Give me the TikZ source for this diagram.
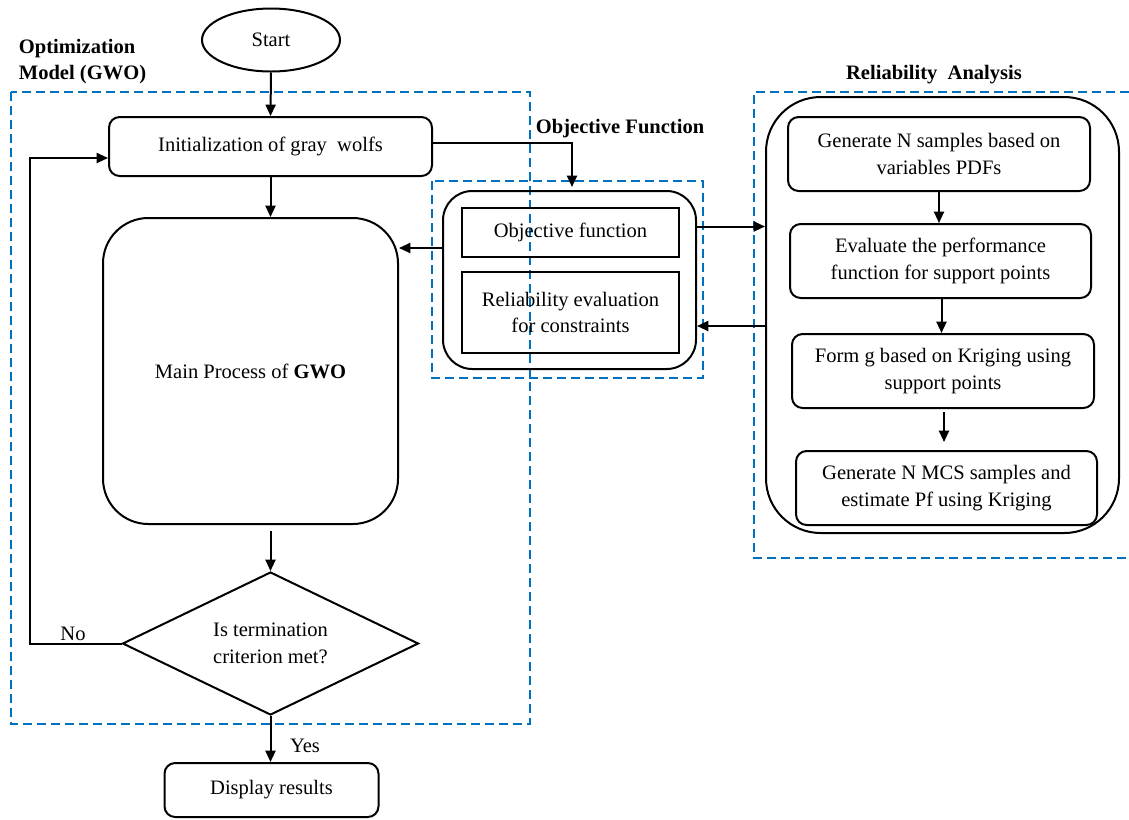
\documentclass[tikz,border=0pt]{standalone}
\usepackage{fontspec}
\setmainfont{Liberation Serif}
\usetikzlibrary{shapes.geometric,arrows.meta,calc}
\definecolor{dashblue}{RGB}{0,112,192}
\tikzset{
  every node/.style={font=\fontsize{15.4}{20}\selectfont, inner sep=2pt},
  box/.style={draw, line width=1.5pt, rounded corners=8pt, align=center},
  sqbox/.style={draw, line width=1.5pt, align=center},
  grp/.style={draw, dashblue, line width=1.4pt, dash pattern=on 6.5pt off 4pt},
  arr/.style={line width=1.5pt, -{Triangle[length=8.5pt,width=7.5pt]}},
  lbl/.style={font=\fontsize{15.4}{20}\selectfont\bfseries, align=left}
}
\begin{document}
\begin{tikzpicture}[x=0.75pt,y=-0.75pt]
\useasboundingbox (0,0) rectangle (1129,819);

% dashed groups
\draw[grp] (11,92) rectangle (530,724);
\draw[grp] (432,181) rectangle (703,378);
\draw[grp] (1129,92) -- (754,92) -- (754,558) -- (1129,558);

% group labels
\node[lbl, anchor=west] (lopt) at (16,61.5) {Optimization\\Model (GWO)};
\node[lbl, anchor=west] (lobj) at (533,129) {Objective Function};
\node[lbl] (lrel) at (934,75) {Reliability\ \ Analysis};

% left flow
\node[draw, ellipse, line width=1.5pt, minimum width=103.5pt, minimum height=47.25pt] (start) at (271,40) {Start};
\node[box, minimum width=242.25pt, minimum height=44.25pt] (init) at (270.5,146.5) {Initialization of gray\ \ wolfs};
\node[box, rounded corners=34pt, minimum width=221.25pt, minimum height=229.5pt] (main) at (250.5,371) {Main Process of \textbf{GWO}};
\node[draw, diamond, aspect=2, line width=1.5pt, minimum width=222pt, minimum height=107.25pt, align=center, inner sep=0pt] (diam) at (270.5,643.5) {Is termination\\criterion met?};
\node[box, minimum width=160.5pt, minimum height=40.5pt] (disp) at (271.5,790) {Display results};

% objective function block
\node[box, rounded corners=22pt, minimum width=189.75pt, minimum height=133.5pt] (objouter) at (569.5,280) {};
\node[sqbox, minimum width=162.75pt, minimum height=36.75pt] (obj1) at (570.5,232.5) {Objective function};
\node[sqbox, minimum width=162.75pt, minimum height=60.75pt] (obj2) at (570.5,312.5) {Reliability evaluation\\for constraints};

% reliability block
\node[box, rounded corners=41pt, minimum width=264.75pt, minimum height=327pt] (relouter) at (942.5,315) {};
\node[box, minimum width=226.5pt, minimum height=55.5pt] (g1) at (939,154) {Generate N samples based on\\variables PDFs};
\node[box, minimum width=225.75pt, minimum height=55.5pt] (g2) at (940.5,261) {Evaluate the performance\\function for support points};
\node[box, minimum width=226.5pt, minimum height=55.5pt] (g3) at (943,371) {Form g based on Kriging using\\support points};
\node[box, minimum width=225.75pt, minimum height=55.5pt] (g4) at (946.5,488) {Generate N MCS samples and\\estimate Pf using Kriging};

% helper coordinates
\coordinate (nocorner) at (30,643.5);
\coordinate (loopend) at (0,158);
\coordinate (objin) at (572,187);
\coordinate (yA) at (0,248);
\coordinate (yB) at (0,226.5);
\coordinate (yC) at (0,326);
\coordinate (yInit) at (0,143);

% connectors
\draw[arr] (start.south) -- (init.north);
\draw[arr] (init.south) -- (init.south |- main.north);
\draw[arr] (diam.north |- main.south) ++(0,6) -- (diam.north);
\draw[arr] (diam.south) -- (diam.south |- disp.north);
\node (yes) at (305,746) {Yes};
\draw[arr] (diam.west) -- (nocorner) |- (init.west |- loopend);
\node (no) at (73,634) {No};
\draw[arr] (init.east |- yInit) -| (objin);
\draw[arr] (objouter.west |- yA) -- (main.east |- yA);
\draw[arr] (objouter.east |- yB) -- (relouter.west |- yB);
\draw[arr] (relouter.west |- yC) -- (objouter.east |- yC);
\draw[arr] (g1.south) -- (g1.south |- g2.north);
\draw[arr] ($(g2.south)+(1,0)$) -- ($(g2.south |- g3.north)+(1,0)$);
\draw[arr] ($(g3.south)+(1,3)$) -- ($(g3.south |- g4.north)+(1,-8)$);
\end{tikzpicture}
\end{document}
